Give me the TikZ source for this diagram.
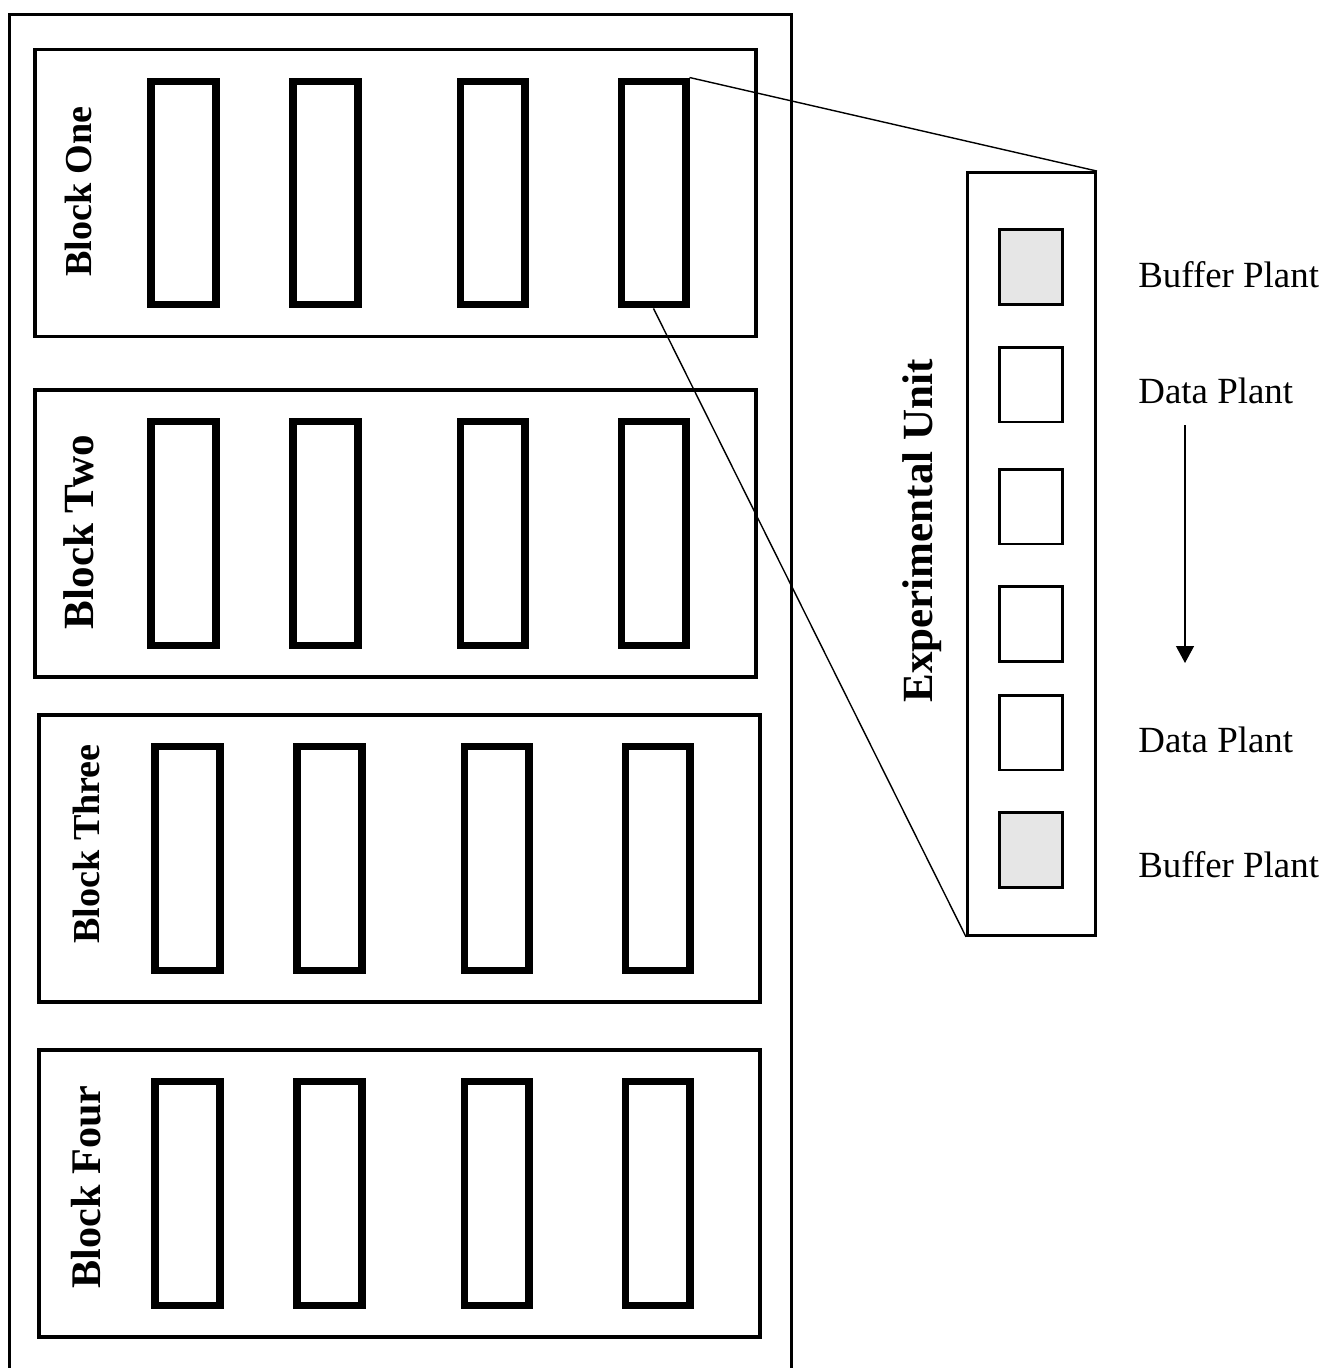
\documentclass[tikz,border=0pt]{standalone}
\usepackage{fontspec}
\setmainfont{Liberation Serif}
\usetikzlibrary{arrows.meta, positioning}
\definecolor{plantgray}{HTML}{E6E6E6}

\begin{document}
\begin{tikzpicture}[
        x=0.02cm, y=-0.02cm,
        blk/.style={rectangle, draw, line width=2.2pt, minimum width=14.42cm, minimum height=5.74cm, inner sep=0pt},
        plot/.style={rectangle, draw, line width=4pt, minimum width=1.3cm, minimum height=4.48cm, inner sep=0pt},
        plant/.style={rectangle, draw, line width=1.7pt, minimum width=1.26cm, minimum height=1.5cm, inner sep=0pt},
        blklbl/.style={rotate=90, inner sep=0pt, font=\fontsize{#1}{28}\selectfont\bfseries},
        plantlbl/.style={anchor=west, inner sep=0pt, font=\fontsize{21}{25}\selectfont},
    ]
    \useasboundingbox (0,0) rectangle (1328,1368);

    % field frame, runs off the bottom
    \draw[line width=1.7pt] (9.5,1368) -- (9.5,14.5) -- (791.5,14.5) -- (791.5,1368);

    % blocks with four plots each
    \foreach \b/\cx/\cy/\lx/\ly/\fs/\name in {1/395.5/193/78/191.5/21.7/One, 2/395.5/533.5/79/532/24.5/Two, 3/399.5/858.5/86/844/21.7/Three, 4/399.5/1193.5/86/1187/24/Four} {
        \node[blk] (blk\b) at (\cx,\cy) {};
        \node[blklbl=\fs] (lbl\b) at (\lx,\ly) {Block \name};
        \foreach \p/\dx in {1/-212, 2/-70, 3/97, 4/258}
            \node[plot] (p\b\p) at (\cx+\dx,\cy) {};
    }

    % experimental unit
    \node[rectangle, draw, line width=1.7pt, minimum width=2.56cm, minimum height=15.26cm, inner sep=0pt] (unit) at (1031.5,554) {};
    \node[blklbl=24.5] (unitlbl) at (922,531) {Experimental Unit};
    \foreach \i/\y/\f in {1/267/plantgray, 2/384.5/white, 3/506.5/white, 4/624/white, 5/732.5/white, 6/850/plantgray}
        \node[plant, fill=\f] (u\i) at (1031,\y) {};

    \node[plantlbl] (buf1) at (1138,275) {Buffer Plant};
    \node[plantlbl] (dat1) at (1138,391) {Data Plant};
    \node[plantlbl] (dat2) at (1138,740) {Data Plant};
    \node[plantlbl] (buf2) at (1138,865) {Buffer Plant};

    \coordinate (arrtop) at (1185,425);
    \coordinate (arrbot) at (1185,663);
    \draw[-{Triangle[length=0.34cm,width=0.36cm]}, line width=0.7pt] (arrtop) -- (arrbot);

    % zoom lines
    \draw[line width=0.8pt] (p14.north east) -- (unit.north east);
    \draw[line width=0.8pt] (p14.south) -- (unit.south west);
\end{tikzpicture}
\end{document}
